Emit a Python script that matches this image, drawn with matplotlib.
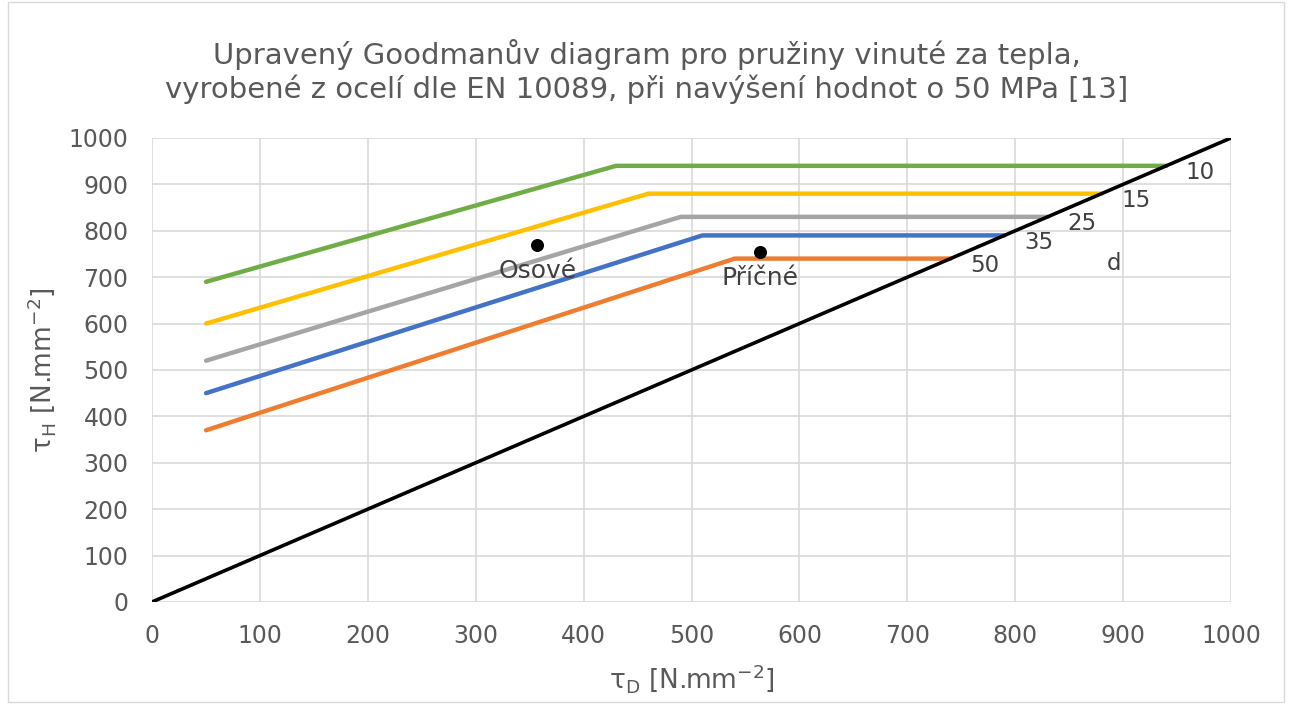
import matplotlib.pyplot as plt
from matplotlib.patches import Rectangle

# series: start point, knee, end on the diagonal
series_names = ["10", "15", "25", "35", "50"]
series_x = [[50, 430, 940], [50, 460, 880], [50, 490, 830], [50, 510, 790], [50, 540, 740]]
series_y = [[690, 940, 940], [600, 880, 880], [520, 830, 830], [450, 790, 790], [370, 740, 740]]
series_colors = ["#70AD47", "#FFC000", "#A5A5A5", "#4472C4", "#ED7D31"]

diag_x = [0, 1000]
diag_y = [0, 1000]

point_names = ["Osové", "Příčné"]
point_x = [357, 563]
point_y = [770, 755]

plt.rcParams['font.family'] = ['DejaVu Sans']
fig = plt.figure(figsize=(12.89, 7.04), dpi=100)
ax = fig.add_axes([0.118, 0.145, 0.837, 0.659])

for name, xs, ys, c in zip(series_names, series_x, series_y, series_colors):
    ax.plot(xs, ys, color=c, lw=3.2, solid_capstyle='round', zorder=3)
    ax.annotate(name, (xs[-1], ys[-1]), xytext=(14, -5), textcoords='offset points',
                ha='left', va='center', fontsize=16.5, color='#404040')

ax.plot(diag_x, diag_y, color='black', lw=2.6, zorder=4)
ax.annotate("d", (885, 730), xytext=(0, 0), textcoords='offset points',
            ha='left', va='center', fontsize=16.5, color='#404040')

ax.scatter(point_x, point_y, s=70, color='black', zorder=5)
for name, px, py in zip(point_names, point_x, point_y):
    ax.annotate(name, (px, py), xytext=(0, -10), textcoords='offset points',
                ha='center', va='top', fontsize=18, color='#404040')

ax.set_xlim(0, 1000)
ax.set_ylim(0, 1000)
ax.set_xticks(range(0, 1001, 100))
ax.set_yticks(range(0, 1001, 100))
ax.grid(True, color='#D9D9D9', lw=1.2)
ax.set_axisbelow(True)
for s in ax.spines.values():
    s.set_visible(False)
ax.tick_params(length=0, labelsize=17, labelcolor='#595959')
ax.tick_params(axis='x', pad=16)
ax.tick_params(axis='y', pad=17)

ax.set_xlabel(r"$\mathregular{\tau_D}$ [N.mm$^{\mathregular{-2}}$]", fontsize=19, color='#595959', labelpad=10)
ax.set_ylabel(r"$\mathregular{\tau_H}$ [N.mm$^{\mathregular{-2}}$]", fontsize=19, color='#595959', labelpad=8)
fig.text(0.502, 0.898, "Upravený Goodmanův diagram pro pružiny vinuté za tepla,\n"
         "vyrobené z ocelí dle EN 10089, při navýšení hodnot o 50 MPa [13]",
         ha='center', va='center', fontsize=21, color='#595959', linespacing=1.2)

fig.patches.append(Rectangle((0.006, 0.003), 0.99, 0.994, transform=fig.transFigure,
                             fill=False, edgecolor='#D9D9D9', lw=1))

plt.savefig('out.png', dpi=100)
